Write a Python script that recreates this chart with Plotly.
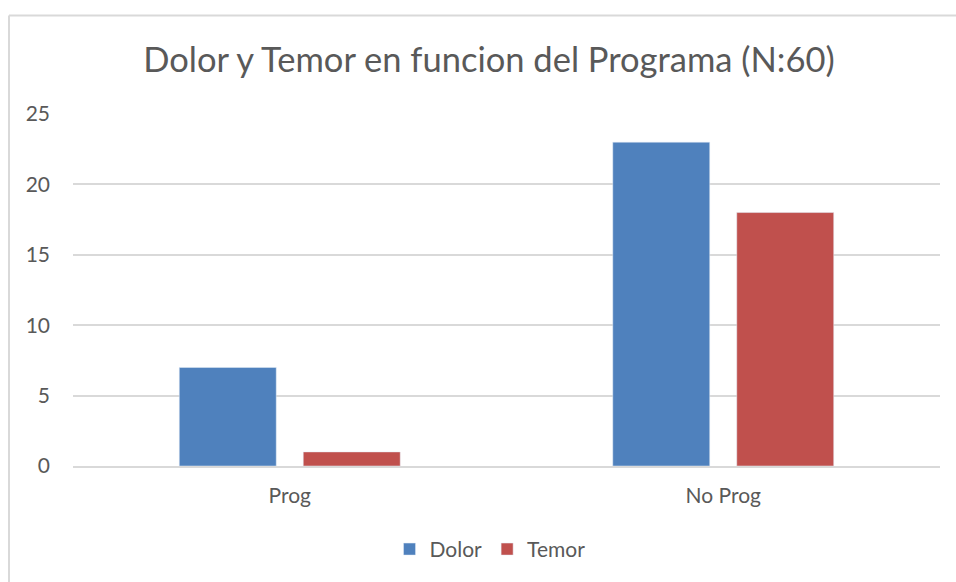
import plotly.graph_objects as go

categories = ["Prog", "No Prog"]
dolor = [7, 23]
temor = [1, 18]

FONT = "Lato, 'Open Sans', sans-serif"
GRID = "#D9D9D9"
TXT = "#595959"

fig = go.Figure()
fig.add_trace(go.Bar(x=categories, y=dolor, name="Dolor", marker={"color": "#4F81BD"}))
fig.add_trace(go.Bar(x=categories, y=temor, name="Temor", marker={"color": "#C0504D"}))

fig.update_layout(
    width=956, height=582,
    margin={"l": 73, "r": 16, "t": 114, "b": 114},
    paper_bgcolor="white", plot_bgcolor="white",
    barmode="group", bargap=0.428, bargroupgap=0.218,
    font={"family": FONT, "color": TXT, "size": 21},
    title={"text": "Dolor y Temor en funcion del Programa (N:60)",
           "x": 0.5115, "xanchor": "center", "y": 0.8969, "yanchor": "middle",
           "font": {"size": 34.5, "color": TXT, "family": FONT}},
    legend={"orientation": "h", "x": 0.481, "xanchor": "center", "y": -0.237, "yanchor": "middle",
            "font": {"size": 21, "color": TXT}, "itemwidth": 30},
    showlegend=True,
)
fig.update_yaxes(range=[0, 25], dtick=5, showgrid=True, gridcolor=GRID, gridwidth=1.5,
                 zeroline=False, showline=False, ticks="", ticklen=0,
                 tickfont={"size": 21, "color": TXT}, ticklabelstandoff=22, fixedrange=True)
fig.update_xaxes(showline=True, linecolor=GRID, linewidth=1.5, ticks="",
                 tickfont={"size": 21, "color": TXT}, ticklabelstandoff=10)

# chart border: only top and left edges are visible in the cropped reference
fig.add_shape(type="line", xref="paper", yref="paper",
              x0=-0.0738, x1=1.5, y0=1.2797, y1=1.2797,
              line={"color": GRID, "width": 2}, layer="below")
fig.add_shape(type="line", xref="paper", yref="paper",
              x0=-0.0738, x1=-0.0738, y0=-0.8, y1=1.2797,
              line={"color": GRID, "width": 2}, layer="below")

# drop the default body margin so the figure fills the window exactly
fig.write_html("out.html", config={"displayModeBar": False},
               post_script="document.body.style.margin='0';document.body.style.overflow='hidden';")
